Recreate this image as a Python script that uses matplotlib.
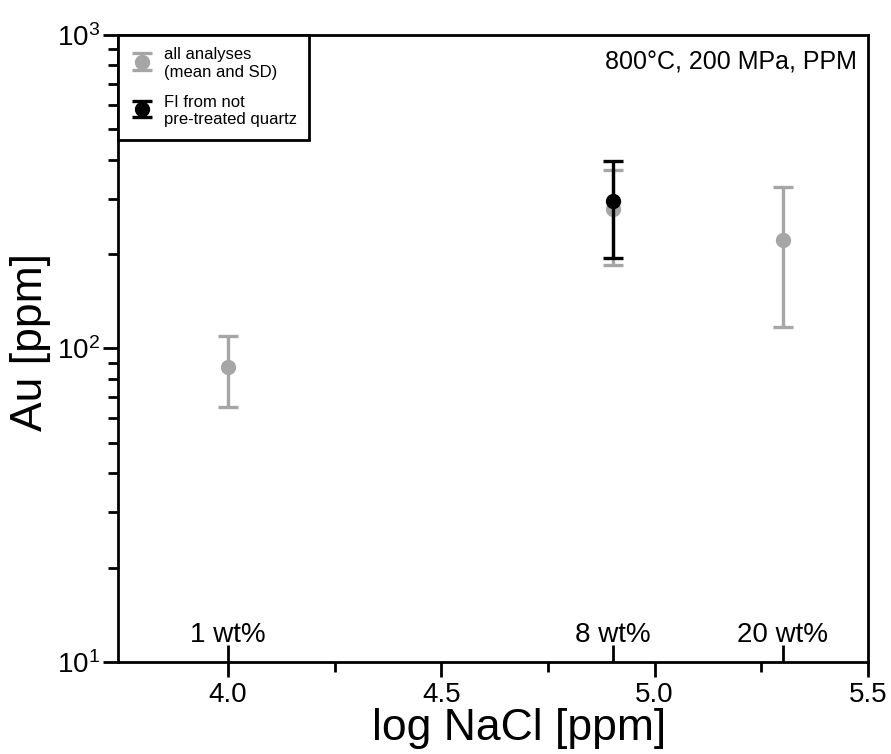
import matplotlib
matplotlib.use('Agg')
import matplotlib.pyplot as plt
import numpy as np
from matplotlib.ticker import FixedLocator, LogLocator, NullFormatter

plt.rcParams['font.family'] = ['Liberation Sans', 'DejaVu Sans']
plt.rcParams['mathtext.fontset'] = 'custom'
plt.rcParams['mathtext.rm'] = 'Liberation Sans'
plt.rcParams['mathtext.it'] = 'Liberation Sans:italic'
plt.rcParams['mathtext.bf'] = 'Liberation Sans:bold'

# all analyses (mean and SD)
all_x = [4.0, 4.903, 5.301]
all_au = [87, 278, 222]
all_lo = [65, 184, 117]
all_hi = [110, 370, 328]

# FI from not pre-treated quartz
fi_x = [4.903]
fi_au = [296]
fi_lo = [195]
fi_hi = [397]

# salinity markers
wt_ppm = [10000, 80000, 200000]
wt_labels = ['1 wt%', '8 wt%', '20 wt%']

grey = '#a6a6a6'

fig = plt.figure(figsize=(8.91, 7.54), dpi=100)
ax = fig.add_axes([0.1324, 0.122, 0.8416, 0.8316])

all_err = [np.array(all_au) - np.array(all_lo), np.array(all_hi) - np.array(all_au)]
fi_err = [np.array(fi_au) - np.array(fi_lo), np.array(fi_hi) - np.array(fi_au)]

ax.errorbar(all_x, all_au, yerr=all_err, fmt='o', color=grey, ms=10,
            elinewidth=2.4, capsize=7.5, capthick=2.4,
            label='all analyses\n(mean and SD)', zorder=2)
ax.errorbar(fi_x, fi_au, yerr=fi_err, fmt='o', color='black', ms=10,
            elinewidth=2.4, capsize=7.5, capthick=2.4,
            label='FI from not\npre-treated quartz', zorder=3)

ax.set_yscale('log')
ax.set_ylim(10, 1000)
ax.set_xlim(3.742, 5.5)
ax.set_xticks([4.0, 4.5, 5.0, 5.5])
ax.xaxis.set_minor_locator(FixedLocator([4.25, 4.75, 5.25]))
ax.yaxis.set_minor_locator(LogLocator(base=10, subs=np.arange(2, 10)))
ax.yaxis.set_minor_formatter(NullFormatter())

ax.tick_params(which='major', direction='out', length=11, width=2,
               labelsize=20, top=False, right=False)
ax.tick_params(which='minor', direction='out', length=7, width=2,
               top=False, right=False)
ax.tick_params(axis='y', which='major', pad=2)
for s in ax.spines.values():
    s.set_linewidth(2)

# salinity ticks pointing into the plot
wt_x = np.log10(wt_ppm)
sec = ax.secondary_xaxis('bottom')
sec.set_xticks(wt_x)
sec.tick_params(direction='in', length=12, width=2, labelbottom=False)
sec.spines['bottom'].set_visible(False)
for x, lab in zip(wt_x, wt_labels):
    ax.text(x, 0.022, lab, transform=ax.get_xaxis_transform(),
            ha='center', va='bottom', fontsize=20)

ax.set_xlabel('log NaCl [ppm]', fontsize=32, labelpad=0, x=0.535)
ax.set_ylabel('Au [ppm]', fontsize=32, labelpad=4, y=0.51)

ax.text(0.985, 0.975, '800°C, 200 MPa, PPM', transform=ax.transAxes,
        ha='right', va='top', fontsize=18)

leg = ax.legend(loc='upper left', fontsize=12, frameon=True, fancybox=False,
                edgecolor='black', framealpha=1, borderaxespad=0,
                handlelength=1.4, handleheight=1.6, labelspacing=0.9,
                borderpad=0.75, handletextpad=0.6)
leg.get_frame().set_linewidth(2)

fig.savefig('out.png', dpi=100)
